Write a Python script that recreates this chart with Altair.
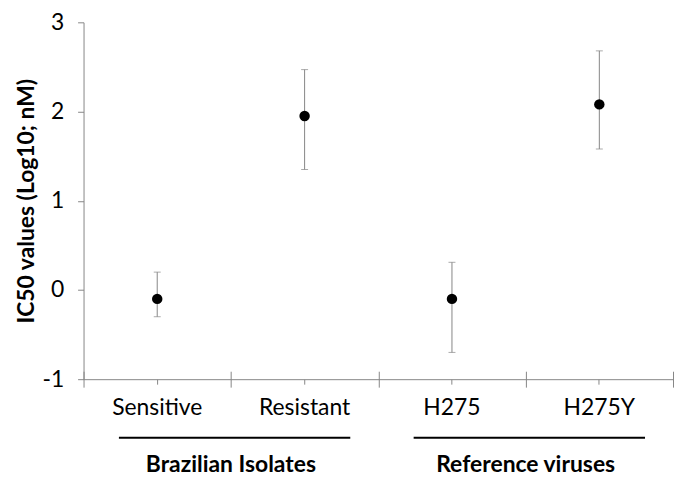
import altair as alt
import pandas as pd

categories = ["Sensitive", "Resistant", "H275", "H275Y"]
ic50_mean = [-0.10, 1.95, -0.10, 2.08]
ic50_low = [-0.30, 1.35, -0.70, 1.58]
ic50_high = [0.20, 2.47, 0.31, 2.68]

group_names = ["Brazilian Isolates", "Reference viruses"]
group_first = ["Sensitive", "H275"]
group_last = ["Resistant", "H275Y"]

df = pd.DataFrame({"cat": categories, "mean": ic50_mean, "lo": ic50_low, "hi": ic50_high})
gdf = pd.DataFrame({"name": group_names, "first": group_first, "last": group_last})

FONT = "Lato"
GRAY = "#868686"

xscale = alt.Scale(domain=categories, paddingInner=0, paddingOuter=0)
yscale = alt.Scale(domain=[-1, 3], nice=False)

base = alt.Chart(df)

errbars = base.mark_errorbar(ticks={"size": 7}, color=GRAY, thickness=1).encode(
    x=alt.X("cat:N", scale=xscale, sort=categories,
            axis=alt.Axis(orient="bottom", title=None, labels=False, domain=False,
                          tickBand="extent", tickSize=16, offset=-8, tickColor=GRAY,
                          tickWidth=1, grid=False)),
    y=alt.Y("lo:Q", scale=yscale, title="IC50 values (Log10; nM)"),
    y2="hi:Q",
)

points = base.mark_point(filled=True, size=110, color="black", opacity=1).encode(
    x=alt.X("cat:N", scale=xscale, sort=categories,
            axis=alt.Axis(orient="bottom", title=None, labelAngle=0, labelFontSize=23,
                          labelFont=FONT, labelColor="black", labelPadding=13, tickSize=5,
                          tickColor=GRAY, domainColor=GRAY, grid=False)),
    y=alt.Y("mean:Q", scale=yscale,
            axis=alt.Axis(values=[-1, 0, 1, 2, 3],
                          labelExpr="datum.value < 0 ? '-' + abs(datum.value) : '' + datum.value",
                          title="IC50 values (Log10; nM)",
                          titleFont=FONT, titleFontSize=23, titleFontWeight="bold",
                          titleColor="black", titlePadding=3,
                          labelFont=FONT, labelFontSize=23, labelColor="black",
                          labelPadding=14, tickSize=6, tickColor=GRAY, domainColor=GRAY,
                          grid=False)),
)

glines = alt.Chart(gdf).mark_rule(color="black", strokeWidth=2).encode(
    x=alt.X("first:N", scale=xscale, bandPosition=0.24, axis=None),
    x2=alt.X2("last:N", bandPosition=0.81),
    y=alt.value(418),
)

gtext = alt.Chart(gdf).mark_text(font=FONT, fontSize=23, fontWeight="bold", color="black",
                                 baseline="alphabetic", align="center").encode(
    x=alt.X("last:N", scale=xscale, bandPosition=0, axis=None),
    y=alt.value(452),
    text="name:N",
)

chart = alt.layer(errbars, points, glines, gtext).resolve_axis(x="independent").properties(
    width=593, height=359,
    autosize=alt.AutoSizeParams(type="none"),
    padding={"left": 76, "top": 13, "right": 2, "bottom": 96},
).configure_view(stroke=None)

chart.save("out.html", embed_options={"renderer": "svg", "actions": False})
